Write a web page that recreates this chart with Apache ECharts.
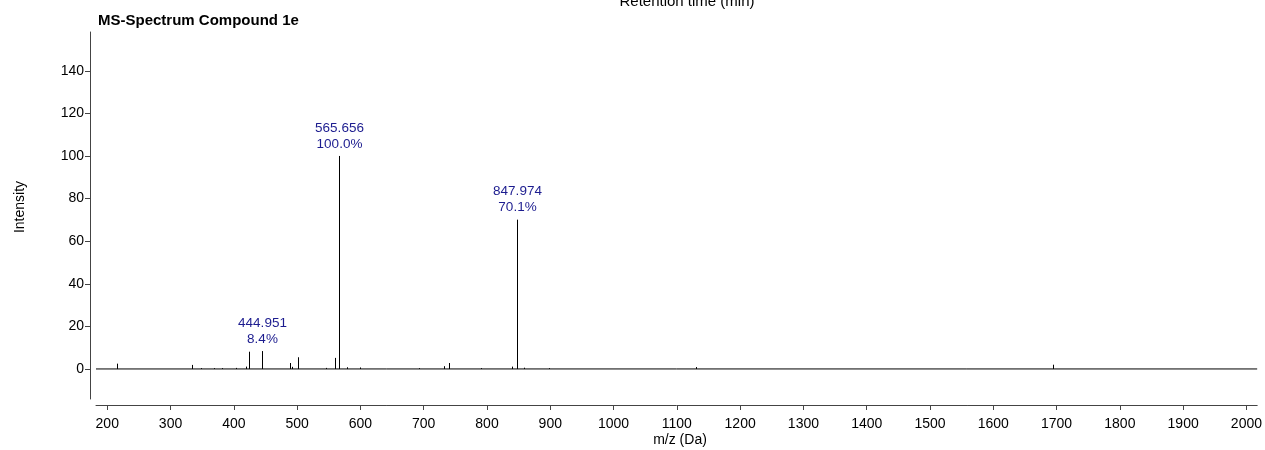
<!DOCTYPE html>
<html>
<head>
<meta charset="utf-8">
<script src="https://cdn.jsdelivr.net/npm/echarts@6/dist/echarts.min.js"></script>
<style>
html,body{margin:0;padding:0;background:#fff;}
#chart{width:1265px;height:450px;}
</style>
</head>
<body>
<div id="chart"></div>
<script>
// ---- data ----
const peakMz = [214.8, 334, 348, 368, 381, 404, 420, 423.5, 444.951, 488, 492, 501, 546, 559.6, 565.656, 579, 598.6, 693, 731.6, 740.5, 790.5, 838.8, 847.974, 858.8, 898, 1130.4, 1694.8];
const peakIntensity = [2.5, 1.9, 0.4, 0.4, 0.4, 0.5, 1.1, 8.1, 8.4, 2.8, 1.0, 5.5, 0.5, 5.2, 100.0, 0.8, 0.7, 0.4, 1.3, 2.8, 0.4, 1.1, 70.1, 0.6, 0.4, 0.9, 2.0];
const labeledMz = [444.951, 565.656, 847.974];
const labeledText = ['444.951\n8.4%', '565.656\n100.0%', '847.974\n70.1%'];
const xTicks = [200, 300, 400, 500, 600, 700, 800, 900, 1000, 1100, 1200, 1300, 1400, 1500, 1600, 1700, 1800, 1900, 2000];
const yTicks = [0, 20, 40, 60, 80, 100, 120, 140];
const xMin = 182.2, xMax = 2017;
const yMin = -14.1, yMax = 158.2;
const titleText = 'MS-Spectrum Compound 1e';
const topText = 'Retention time (min)';
const xName = 'm/z (Da)';
const yName = 'Intensity';

const FONT = '"Liberation Sans", Arial, sans-serif';
const peakData = peakMz.map((m, i) => [m, peakIntensity[i]]);

const chart = echarts.init(document.getElementById('chart'), null, {renderer: 'canvas'});
chart.setOption({
  animation: false,
  backgroundColor: '#fff',
  grid: {left: 96, right: 6, top: 32, bottom: 51, containLabel: false},
  xAxis: {
    type: 'value', min: xMin, max: xMax, offset: 6,
    axisLine: {show: true, onZero: false, lineStyle: {color: '#444', width: 1}},
    axisTick: {show: true, length: 5, inside: false, customValues: xTicks, lineStyle: {color: '#444'}},
    axisLabel: {customValues: xTicks, formatter: v => String(v), color: '#000', fontFamily: FONT, fontSize: 14, margin: 12},
    splitLine: {show: false}
  },
  yAxis: {
    type: 'value', min: yMin, max: yMax, offset: 6,
    axisLine: {show: true, onZero: false, lineStyle: {color: '#444', width: 1}},
    axisTick: {show: true, length: 5, inside: false, customValues: yTicks, lineStyle: {color: '#444'}},
    axisLabel: {customValues: yTicks, formatter: v => String(v), color: '#000', fontFamily: FONT, fontSize: 14, margin: 6},
    splitLine: {show: false}
  },
  graphic: [
    {type: 'text', x: 98, y: 21, style: {text: titleText, fill: '#000', font: 'bold 15px ' + FONT, textVerticalAlign: 'middle'}},
    {type: 'text', x: 687, y: 2, style: {text: topText, fill: '#000', font: '15px ' + FONT, textAlign: 'center', textVerticalAlign: 'middle'}},
    {type: 'text', x: 680, y: 440, style: {text: xName, fill: '#000', font: '14px ' + FONT, textAlign: 'center', textVerticalAlign: 'middle'}},
    {type: 'text', x: 20, y: 207, rotation: Math.PI / 2, style: {text: yName, fill: '#000', font: '14px ' + FONT, textAlign: 'center', textVerticalAlign: 'middle'}}
  ],
  series: [
    {
      type: 'line', data: [[xMin, 0], [xMax, 0]], symbol: 'none', silent: true,
      lineStyle: {color: '#000', width: 1}
    },
    {
      type: 'custom', data: peakData, clip: false,
      renderItem: function (params, api) {
        const x = api.value(0), y = api.value(1);
        const p0 = api.coord([x, 0]);
        const p1 = api.coord([x, y]);
        const px = Math.round(p0[0]) + 0.5;
        const children = [{
          type: 'line', shape: {x1: px, y1: p0[1], x2: px, y2: p1[1]},
          style: {stroke: '#000', lineWidth: 1}
        }];
        const li = labeledMz.indexOf(x);
        if (li >= 0) {
          children.push({
            type: 'text', x: px, y: p1[1] - 4,
            style: {text: labeledText[li], fill: '#1c1c8f', font: '13.5px ' + FONT, textAlign: 'center', textVerticalAlign: 'bottom', lineHeight: 16}
          });
        }
        return {type: 'group', children: children};
      }
    }
  ]
});
</script>
</body>
</html>
